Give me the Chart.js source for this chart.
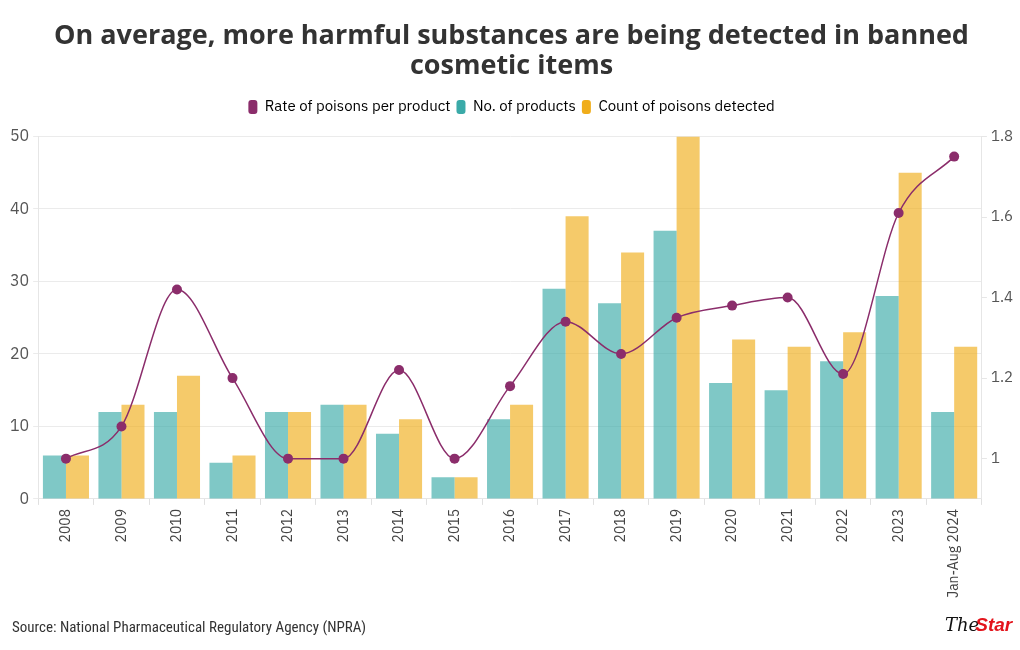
<!DOCTYPE html>
<html>
<head>
<meta charset="utf-8">
<script src="https://cdn.jsdelivr.net/npm/chart.js@4/dist/chart.umd.min.js"></script>
<style>
  html, body { margin: 0; padding: 0; background: #fff; }
  #wrap { position: relative; width: 1020px; height: 650px; }
</style>
</head>
<body>
<div id="wrap"><canvas id="c" width="1020" height="650"></canvas></div>
<script>
const categories = ["2008","2009","2010","2011","2012","2013","2014","2015","2016","2017","2018","2019","2020","2021","2022","2023","Jan-Aug 2024"];
const products = [6,12,12,5,12,13,9,3,11,29,27,37,16,15,19,28,12];
const poisons = [6,13,17,6,12,13,11,3,13,39,34,50,22,21,23,45,21];
const rate = [1,1.08,1.42,1.2,1,1,1.22,1,1.18,1.34,1.26,1.35,1.38,1.4,1.21,1.61,1.75];
const leftTicks = [0,10,20,30,40,50];
const rightTicks = [1,1.2,1.4,1.6,1.8];

const PURPLE = '#8b2d6b', TEAL = '#3aaaa8', GOLD = '#f0ad1a';
const FONT = '"IBM Plex Sans", "Noto Sans", "Open Sans", sans-serif';

const footerPlugin = {
  id: 'footer',
  afterDraw(chart) {
    const ctx = chart.ctx;
    ctx.save();
    ctx.fillStyle = '#333';
    ctx.font = '15px "Liberation Sans Narrow", "Roboto Condensed", "Noto Sans", sans-serif';
    ctx.textBaseline = 'middle';
    ctx.textAlign = 'left';
    ctx.fillText('Source: National Pharmaceutical Regulatory Agency (NPRA)', 12, 628);
    // logo
    ctx.font = 'italic 18px "DejaVu Serif", serif';
    ctx.fillStyle = '#111';
    ctx.fillText('The', 945, 626);
    const w = ctx.measureText('The').width;
    ctx.font = 'italic bold 19px "Liberation Sans Narrow", "Liberation Sans", sans-serif';
    ctx.fillStyle = '#e3141c';
    ctx.fillText('Star', 945 + w - 4, 626);
    ctx.restore();
  }
};

new Chart(document.getElementById('c'), {
  data: {
    labels: categories,
    datasets: [
      {
        type: 'line', label: 'Rate of poisons per product', data: rate, yAxisID: 'y1',
        borderColor: PURPLE, backgroundColor: PURPLE, borderWidth: 1.5,
        pointRadius: 5, pointHoverRadius: 5, pointBackgroundColor: PURPLE, pointBorderWidth: 0,
        cubicInterpolationMode: 'monotone', order: 0
      },
      {
        type: 'bar', label: 'No. of products', data: products, yAxisID: 'y',
        backgroundColor: 'rgba(58,170,168,0.65)', borderWidth: 0,
        barPercentage: 1, categoryPercentage: 0.83, order: 1
      },
      {
        type: 'bar', label: 'Count of poisons detected', data: poisons, yAxisID: 'y',
        backgroundColor: 'rgba(240,173,26,0.65)', borderWidth: 0,
        barPercentage: 1, categoryPercentage: 0.83, order: 1
      }
    ]
  },
  options: {
    responsive: false,
    animation: false,
    layout: { padding: { left: 6, right: 3, top: 4, bottom: 48 } },
    plugins: {
      title: {
        display: true,
        text: ['On average, more harmful substances are being detected in banned', 'cosmetic items'],
        color: '#333',
        font: { family: '"Open Sans", sans-serif', size: 27, weight: 'bold', lineHeight: 1.12 },
        padding: { top: 17, bottom: 12 }
      },
      legend: {
        display: true,
        position: 'top',
        labels: {
          color: '#333',
          font: { family: FONT, size: 15 },
          boxWidth: 9, boxHeight: 14, useBorderRadius: true, borderRadius: 3, padding: 6,
          generateLabels() {
            const cols = [PURPLE, TEAL, GOLD];
            const names = ['Rate of poisons per product', 'No. of products', 'Count of poisons detected'];
            return names.map((n, i) => ({
              text: n, fillStyle: cols[i], strokeStyle: cols[i], lineWidth: 0,
              datasetIndex: i, hidden: false, borderRadius: 3
            }));
          }
        }
      },
      tooltip: { enabled: false }
    },
    scales: {
      x: {
        grid: { display: true, drawOnChartArea: false, color: '#e0e0e0', tickLength: 6 },
        border: { color: '#e6e6e6' },
        ticks: { color: '#444', font: { family: FONT, size: 14 }, minRotation: 90, maxRotation: 90, padding: 4 }
      },
      y: {
        position: 'left', min: 0, max: 50,
        afterBuildTicks(scale) { scale.ticks = leftTicks.map(v => ({ value: v })); },
        grid: { color: '#ebebeb', tickLength: 5 },
        border: { color: '#e6e6e6' },
        ticks: { color: '#555', font: { family: FONT, size: 16 }, padding: 4 }
      },
      y1: {
        position: 'right', min: 0.9, max: 1.8,
        afterBuildTicks(scale) { scale.ticks = rightTicks.map(v => ({ value: v })); },
        grid: { drawOnChartArea: false, color: '#e6e6e6', tickLength: 5 },
        border: { color: '#e6e6e6' },
        ticks: { color: '#555', font: { family: FONT, size: 15 }, padding: 4,
          callback: v => String(+v.toFixed(1)) }
      }
    }
  },
  plugins: [footerPlugin, {
    id: 'legendSpace',
    beforeInit(chart) {
      const fit = chart.legend.fit;
      chart.legend.fit = function() { fit.call(this); this.height += 12; };
    }
  }]
});
</script>
</body>
</html>
